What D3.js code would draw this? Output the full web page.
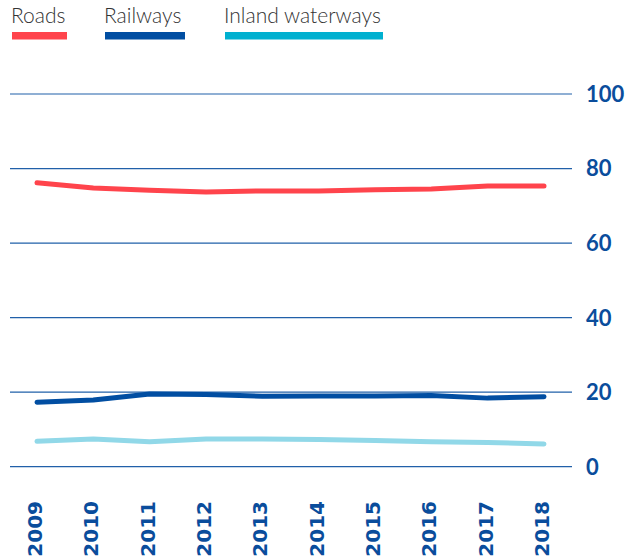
<!DOCTYPE html>
<html><head><meta charset="utf-8">
<script src="https://cdn.jsdelivr.net/npm/d3@7"></script>
<style>body{margin:0;background:#fff}svg{display:block}</style>
</head><body>
<svg id="c" width="627" height="560"></svg>
<script>
const years = ["2009","2010","2011","2012","2013","2014","2015","2016","2017","2018"];
const roads = [76.2, 74.8, 74.2, 73.7, 74.0, 74.0, 74.3, 74.5, 75.3, 75.3];
const railways = [17.3, 17.9, 19.5, 19.4, 18.9, 19.0, 19.0, 19.1, 18.4, 18.8];
const inland = [6.8, 7.4, 6.7, 7.4, 7.4, 7.3, 7.0, 6.7, 6.5, 6.1];
const yTicks = [0, 20, 40, 60, 80, 100];
const seriesNames = ["Roads", "Railways", "Inland waterways"];

const svg = d3.select("#c");
const x = d3.scalePoint().domain(years).range([37, 544]);
const y = d3.scaleLinear().domain([0, 100]).range([466.7, 94]);

// gridlines
svg.append("g").selectAll("line").data(yTicks).join("line")
  .attr("x1", 10).attr("x2", 572)
  .attr("y1", d => y(d)).attr("y2", d => y(d))
  .attr("stroke", "#2160a9").attr("stroke-width", 1.2);

// y labels
svg.append("g").selectAll("text").data(yTicks).join("text")
  .attr("x", 586).attr("y", d => y(d)).attr("dy", "0.36em")
  .attr("font-family", "Lato").attr("font-weight", "bold").attr("font-size", 22)
  .attr("fill", "#0a4d9c").text(d => d);

// x labels
svg.append("g").selectAll("text").data(years).join("text")
  .attr("transform", d => `translate(${x(d) + 5},501) rotate(-90)`)
  .attr("text-anchor", "end")
  .attr("font-family", "DejaVu Sans").attr("font-weight", "bold").attr("font-size", 20)
  .attr("fill", "#0a4d9c").text(d => d);

const line = d3.line().x((d, i) => x(years[i])).y(d => y(d)).curve(d3.curveLinear);
const series = [
  {vals: inland, color: "#91d8e8"},
  {vals: railways, color: "#014ea2"},
  {vals: roads, color: "#ff444c"}
];
svg.append("g").selectAll("path").data(series).join("path")
  .attr("d", d => line(d.vals)).attr("fill", "none")
  .attr("stroke", d => d.color).attr("stroke-width", 5)
  .attr("stroke-linecap", "round").attr("stroke-linejoin", "round");

// legend
const legend = [
  {name: seriesNames[0], color: "#ff444c", x0: 12, x1: 67},
  {name: seriesNames[1], color: "#014ea2", x0: 105, x1: 185},
  {name: seriesNames[2], color: "#00b0d0", x0: 225, x1: 383}
];
const lg = svg.append("g").selectAll("g").data(legend).join("g");
lg.append("text").attr("x", d => d.x0 - 1).attr("y", 22.5)
  .attr("font-family", "Lato").attr("font-weight", 300).attr("font-size", 21)
  .attr("fill", "#333").text(d => d.name);
lg.append("rect").attr("x", d => d.x0).attr("y", 32)
  .attr("width", d => d.x1 - d.x0).attr("height", 7.5).attr("fill", d => d.color);
</script>
</body></html>
